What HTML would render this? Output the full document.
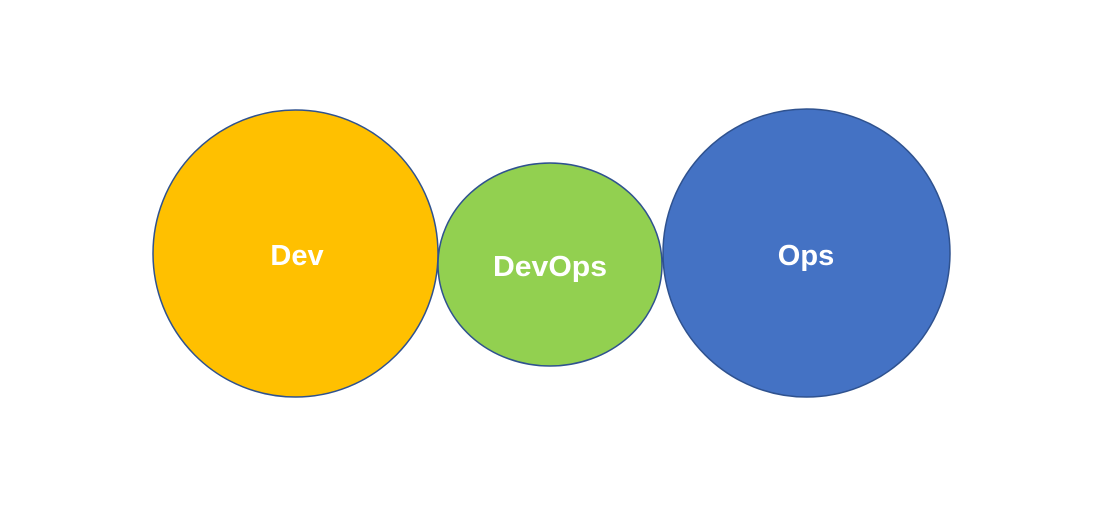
<!DOCTYPE html>
<html><head><meta charset="utf-8"><style>
html,body{margin:0;padding:0;background:#fff;}
svg{display:block;}
text{font-family:"Liberation Sans",sans-serif;fill:#fff;font-size:29px;font-weight:bold;text-anchor:middle;}
</style></head><body>
<svg width="1115" height="506" viewBox="0 0 1115 506">
<ellipse cx="295.5" cy="253.5" rx="142.5" ry="143.5" fill="#FFC000" stroke="#2F528F" stroke-width="1.5"/>
<ellipse cx="550" cy="264.5" rx="112" ry="101.5" fill="#92D050" stroke="#2F528F" stroke-width="1.5"/>
<ellipse cx="806.5" cy="253" rx="143.5" ry="144" fill="#4472C4" stroke="#2F528F" stroke-width="1.5"/>
<text x="297" y="265">Dev</text>
<text x="550" y="276" textLength="114" lengthAdjust="spacingAndGlyphs">DevOps</text>
<text x="806" y="265">Ops</text>
</svg>
</body></html>
